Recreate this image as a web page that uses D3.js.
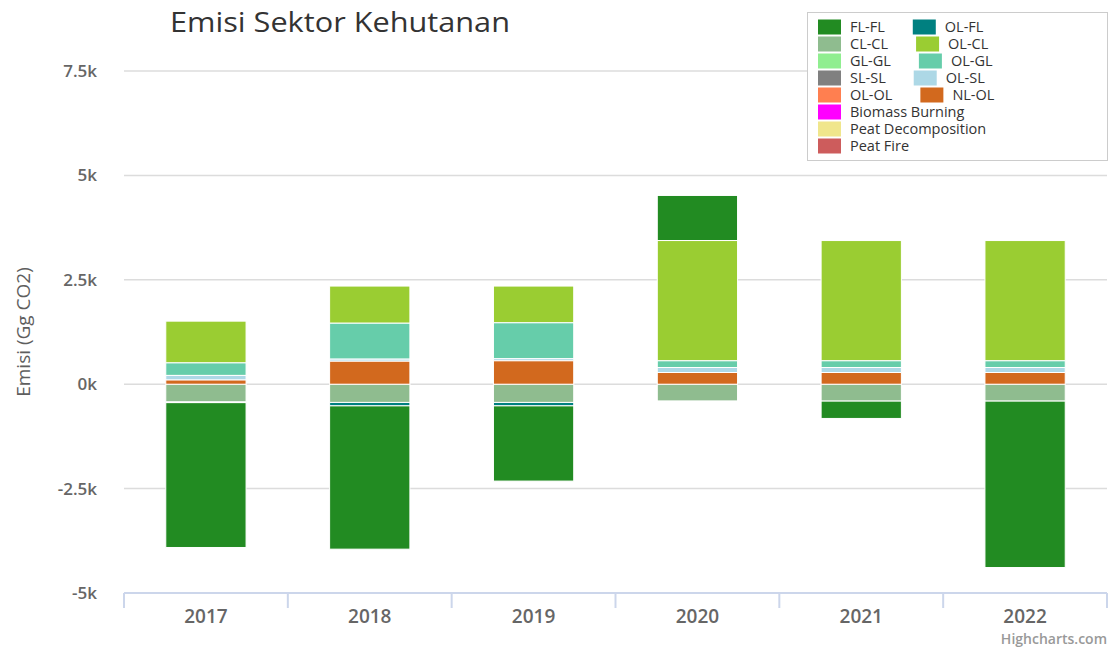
<!DOCTYPE html>
<html>
<head>
<meta charset="utf-8">
<script src="https://cdn.jsdelivr.net/npm/d3@7/dist/d3.min.js"></script>
<style>
  html, body { margin: 0; padding: 0; background: #fff; }
  svg { display: block; font-family: "Open Sans", "DejaVu Sans", sans-serif; }
</style>
</head>
<body>
<svg id="chart" width="1108" height="648"></svg>
<script>
// categories
const years = ["2017", "2018", "2019", "2020", "2021", "2022"];

// series (Gg CO2), in legend order
const seriesNames = ["FL-FL", "OL-FL", "CL-CL", "OL-CL", "GL-GL", "OL-GL", "SL-SL", "OL-SL",
  "OL-OL", "NL-OL", "Biomass Burning", "Peat Decomposition", "Peat Fire"];
const seriesColors = ["#228B22", "#008080", "#8FBC8F", "#9ACD32", "#90EE90", "#66CDAA", "#808080",
  "#ADD8E6", "#FF7F50", "#D2691E", "#FF00FF", "#F0E68C", "#CD5C5C"];

const flFl   = [-3470, -3435, -1805, 1080, -420, -3990];
const olFl   = [-20, -80, -80, 0, 0, 0];
const clCl   = [-420, -435, -435, -400, -400, -400];
const olCl   = [1000, 890, 880, 2880, 2880, 2880];
const glGl   = [0, 0, 0, 0, 0, 0];
const olGl   = [300, 860, 860, 160, 160, 160];
const slSl   = [0, 0, 0, 0, 0, 0];
const olSl   = [110, 50, 50, 120, 120, 120];
const olOl   = [0, 0, 0, 0, 0, 0];
const nlOl   = [100, 550, 560, 280, 280, 280];
const biomass = [0, 0, 0, 0, 0, 0];
const peatDecomp = [0, 0, 0, 0, 0, 0];
const peatFire = [0, 0, 0, 0, 0, 0];

const seriesValues = [flFl, olFl, clCl, olCl, glGl, olGl, slSl, olSl, olOl, nlOl, biomass, peatDecomp, peatFire];

// y axis ticks
const yTicks = [-5000, -2500, 0, 2500, 5000, 7500];

const svg = d3.select("#chart");
const margin = { top: 71, right: 1, bottom: 55, left: 124 };
const width = 1108 - margin.left - margin.right;
const height = 648 - margin.top - margin.bottom;

const x = d3.scaleBand().domain(years).range([margin.left, margin.left + width]).padding(0);
const y = d3.scaleLinear().domain([-5000, 7500]).range([margin.top + height, margin.top]);

// gridlines
svg.append("g")
  .selectAll("line")
  .data(yTicks.filter(d => d !== -5000))
  .enter().append("line")
    .attr("x1", margin.left)
    .attr("x2", margin.left + width)
    .attr("y1", d => y(d))
    .attr("y2", d => y(d))
    .attr("stroke", "#dcdcdc")
    .attr("stroke-width", 1.5);

// y labels
svg.append("g")
  .selectAll("text")
  .data(yTicks)
  .enter().append("text")
    .attr("x", 97)
    .attr("y", d => y(d))
    .attr("dy", "0.35em")
    .attr("text-anchor", "end")
    .attr("font-size", "17px")
    .attr("font-weight", 600)
    .attr("fill", "#666")
    .text(d => (d / 1000) + "k");

svg.append("text")
  .attr("transform", "translate(23," + (margin.top + height / 2) + ") rotate(-90)")
  .attr("text-anchor", "middle")
  .attr("dy", "0.35em")
  .attr("font-size", "19px")
  .attr("fill", "#5e5e5e")
  .text("Emisi (Gg CO2)");

// stacked bars
const rows = years.map((yr, i) => {
  const r = { year: yr };
  seriesNames.forEach((s, j) => { r[s] = seriesValues[j][i]; });
  return r;
});

const stack = d3.stack()
  .keys(seriesNames)
  .order(d3.stackOrderReverse)
  .offset(d3.stackOffsetDiverging);

const layers = stack(rows);
const barW = x.bandwidth() * 0.49;

svg.append("g")
  .selectAll("g")
  .data(layers)
  .enter().append("g")
    .attr("fill", d => seriesColors[seriesNames.indexOf(d.key)])
  .selectAll("rect")
  .data(d => d.filter(p => p[1] - p[0] !== 0))
  .enter().append("rect")
    .attr("x", d => x(d.data.year) + (x.bandwidth() - barW) / 2)
    .attr("width", barW)
    .attr("y", d => y(d[1]))
    .attr("height", d => y(d[0]) - y(d[1]))
    .attr("stroke", "#fff")
    .attr("stroke-width", 1);

// x axis
const xAxis = svg.append("g").attr("transform", "translate(0," + (margin.top + height) + ")");
xAxis.append("line")
  .attr("x1", margin.left).attr("x2", margin.left + width)
  .attr("stroke", "#ccd6eb").attr("stroke-width", 2);
xAxis.selectAll(".tick")
  .data(years.map(d => x(d)).concat([margin.left + width]))
  .enter().append("line")
    .attr("x1", d => d).attr("x2", d => d)
    .attr("y1", 0).attr("y2", 15)
    .attr("stroke", "#ccd6eb").attr("stroke-width", 2);
xAxis.selectAll("text")
  .data(years)
  .enter().append("text")
    .attr("x", d => x(d) + x.bandwidth() / 2)
    .attr("y", 23)
    .attr("dy", "0.35em")
    .attr("text-anchor", "middle")
    .attr("font-size", "19px")
    .attr("font-weight", 600)
    .attr("fill", "#666")
    .text(d => d);

// title
svg.append("text")
  .attr("x", 170)
  .attr("y", 32)
  .attr("font-size", "27px")
  .attr("font-weight", 500)
  .attr("fill", "#333")
  .attr("textLength", 340)
  .attr("lengthAdjust", "spacingAndGlyphs")
  .text("Emisi Sektor Kehutanan");

// legend
const legend = svg.append("g");
legend.append("rect")
  .attr("x", 807.5).attr("y", 12.5)
  .attr("width", 300).attr("height", 148)
  .attr("fill", "#fff")
  .attr("stroke", "#cccccc");

const legendRows = [];
for (let i = 0; i < 10; i += 2) legendRows.push([i, i + 1]);
for (let i = 10; i < seriesNames.length; i++) legendRows.push([i]);

legendRows.forEach((row, r) => {
  const cy = 27 + r * 17;
  let lx = 818;
  row.forEach(idx => {
    legend.append("rect")
      .attr("x", lx).attr("y", cy - 7.5)
      .attr("width", 23).attr("height", 15)
      .attr("fill", seriesColors[idx]);
    const t = legend.append("text")
      .attr("x", lx + 32)
      .attr("y", cy)
      .attr("dy", "0.35em")
      .attr("font-size", "14.5px")
      .attr("fill", "#333")
      .text(seriesNames[idx]);
    lx = lx + 32 + t.node().getComputedTextLength() + 28;
  });
});

// credits
svg.append("text")
  .attr("x", 1107)
  .attr("y", 644)
  .attr("text-anchor", "end")
  .attr("font-size", "14px")
  .attr("font-weight", 600)
  .attr("fill", "#999")
  .text("Highcharts.com");
</script>
</body>
</html>
